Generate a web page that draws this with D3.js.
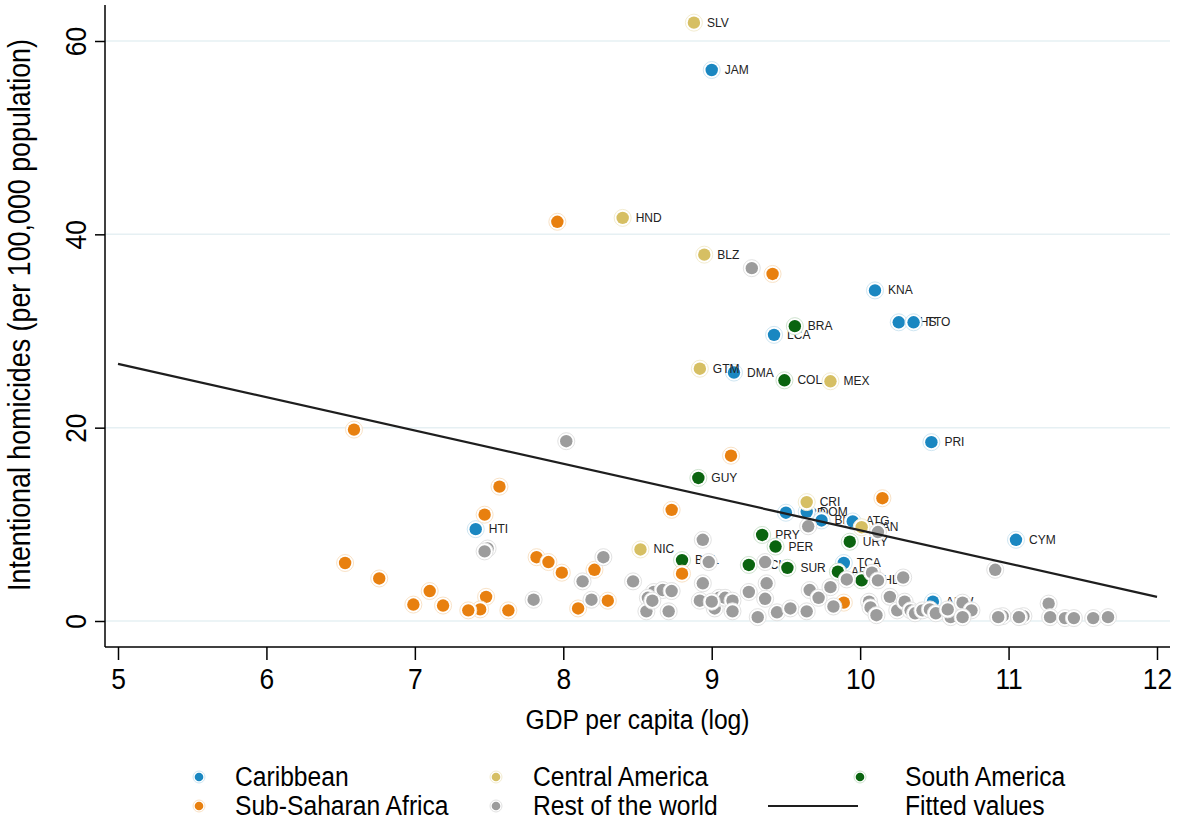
<!DOCTYPE html>
<html>
<head>
<meta charset="utf-8">
<script src="https://cdn.jsdelivr.net/npm/d3@7"></script>
<style>
  body { margin: 0; background: #fff; }
  svg text { font-family: "Liberation Sans", Arial, sans-serif; fill: #000; }
  .lbl { font-size: 12px; fill: #222; }
</style>
</head>
<body>
<div id="chart"></div>
<script>
// x = log GDP per capita, y = homicides per 100,000
var caribbean = [
  [9.00, 57.0, "JAM"], [10.10, 34.2, "KNA"], [10.26, 30.9, "BHS"], [10.36, 30.9, "TTO"],
  [9.42, 29.6, "LCA"], [9.15, 25.7, "DMA"], [10.48, 18.5, "PRI"], [9.50, 11.2, "GRD"],
  [9.64, 11.3, "DOM"], [9.74, 10.4, "BRB"], [9.95, 10.3, "ATG"], [7.41, 9.5, "HTI"],
  [11.05, 8.4, "CYM"], [9.89, 6.0, "TCA"], [10.49, 2.0, "ABW"]
];
var centralAmerica = [
  [8.88, 61.9, "SLV"], [8.40, 41.7, "HND"], [8.95, 37.9, "BLZ"], [8.92, 26.1, "GTM"],
  [9.80, 24.8, "MEX"], [9.64, 12.3, "CRI"], [10.01, 9.7, "PAN"], [8.52, 7.4, "NIC"]
];
var southAmerica = [
  [9.56, 30.5, "BRA"], [9.49, 24.9, "COL"], [8.91, 14.8, "GUY"], [9.34, 8.9, "PRY"],
  [9.93, 8.2, "URY"], [9.43, 7.7, "PER"], [8.80, 6.3, "BOL"], [9.25, 5.8, "ECU"],
  [9.51, 5.5, "SUR"], [9.85, 5.1, "ARG"], [10.01, 4.2, "CHL"]
];
var subSaharan = [
  [7.96, 41.3], [9.41, 35.9], [6.59, 19.8], [9.13, 17.1], [7.57, 13.9], [10.15, 12.7],
  [8.73, 11.5], [7.47, 11.0], [6.53, 6.0], [6.76, 4.4], [7.10, 3.1], [6.99, 1.7],
  [7.19, 1.6], [7.48, 2.5], [7.44, 1.2], [7.36, 1.1], [7.63, 1.1], [7.82, 6.6],
  [7.90, 6.1], [7.99, 5.0], [8.21, 5.3], [8.10, 1.3], [8.30, 2.1], [8.80, 4.9], [9.89, 1.9]
];
var restOfWorld = [
  [9.27, 36.5], [8.02, 18.6], [8.94, 8.4], [9.65, 9.8], [10.12, 9.2], [7.49, 7.5], [7.47, 7.2],
  [8.27, 6.6], [8.98, 6.1], [9.36, 6.1], [10.91, 5.3], [8.13, 4.1], [8.47, 4.1], [8.94, 3.9],
  [9.37, 3.9], [7.80, 2.2], [8.19, 2.2], [8.61, 3.0], [8.57, 2.4], [8.56, 1.0], [8.67, 3.2],
  [8.73, 3.1], [8.71, 1.0], [8.92, 2.1], [9.02, 1.3], [9.05, 2.4], [9.09, 2.4], [9.14, 2.1],
  [9.14, 1.0], [9.25, 3.0], [9.31, 0.4], [9.36, 2.3], [9.44, 0.9], [9.53, 1.3], [9.64, 1.0],
  [9.66, 3.2], [9.72, 2.4], [9.80, 3.5], [9.82, 1.5], [9.91, 4.3], [10.08, 5.0], [10.12, 4.2],
  [10.29, 4.5], [10.06, 2.0], [10.07, 1.4], [10.11, 0.6], [10.20, 2.5], [10.25, 1.1],
  [10.30, 2.0], [10.34, 1.1], [10.37, 0.8], [10.42, 1.1], [10.47, 1.2], [10.51, 0.8],
  [10.61, 0.4], [10.59, 1.2], [10.69, 1.9], [10.75, 1.1], [10.69, 0.4], [10.96, 0.5],
  [10.93, 0.4], [11.10, 0.5], [11.07, 0.4], [11.27, 1.8], [11.28, 0.4], [11.38, 0.3],
  [11.44, 0.3], [11.57, 0.3], [11.67, 0.4], [9.00, 2.0], [8.60, 2.1]
];
var fitX = [5, 12], fitY = [26.6, 2.5];
var xTicks = [5, 6, 7, 8, 9, 10, 11, 12];
var yTicks = [0, 20, 40, 60];

var groups = [
  { name: "Caribbean", pts: caribbean, color: "#1a87c1", halo: "#cfe6f2" },
  { name: "Central America", pts: centralAmerica, color: "#d6bf63", halo: "#f3ecd0" },
  { name: "South America", pts: southAmerica, color: "#0a640f", halo: "#cfe3cf" },
  { name: "Sub-Saharan Africa", pts: subSaharan, color: "#e8800f", halo: "#f9e2c6" },
  { name: "Rest of the world", pts: restOfWorld, color: "#9c9c9c", halo: "#e2e2e2" }
];

var W = 1181, H = 820,
    plotLeft = 105, plotRight = 1170, plotTop = 5, plotBottom = 647,
    narrow = 0.88;   // stata's text is rendered horizontally squeezed

var x = d3.scaleLinear().domain([5, 12]).range([118, 1157]);
var y = d3.scaleLinear().domain([0, 60]).range([621, 41]);

var svg = d3.select("#chart").append("svg")
    .attr("width", W).attr("height", H);

function label(px, py, str, size, rot) {
  return svg.append("text")
    .attr("transform", "translate(" + px + "," + py + ") rotate(" + (rot || 0) + ") scale(" + narrow + ",1)")
    .attr("font-size", size)
    .text(str);
}

// grid
svg.selectAll(".grid").data(yTicks).enter().append("line")
    .attr("x1", plotLeft).attr("x2", plotRight)
    .attr("y1", function(d) { return y(d); }).attr("y2", function(d) { return y(d); })
    .attr("stroke", "#e6f0f3").attr("stroke-width", 1.5);

// axes
var xAxis = svg.append("g").attr("transform", "translate(0," + plotBottom + ")")
    .call(d3.axisBottom(x).tickValues(xTicks).tickSize(13).tickPadding(8).tickFormat(d3.format("d")));
xAxis.select(".domain").remove();
xAxis.selectAll("line").attr("stroke", "#000").attr("stroke-width", 1.5);
xAxis.selectAll("text").attr("font-size", 30).attr("fill", "#000")
    .attr("transform", "scale(" + narrow + ",1)")
    .style("font-family", "'Liberation Sans',Arial,sans-serif");

var yAxis = svg.append("g").attr("transform", "translate(" + plotLeft + ",0)")
    .call(d3.axisLeft(y).tickValues(yTicks).tickSize(10).tickPadding(6).tickFormat(d3.format("d")));
yAxis.select(".domain").remove();
yAxis.selectAll("line").attr("stroke", "#000").attr("stroke-width", 1.5);
yAxis.selectAll("text").attr("font-size", 30).attr("fill", "#000")
    .attr("x", 0).attr("dy", 0)
    .attr("transform", "translate(-19,0) rotate(-90) scale(" + narrow + ",1)")
    .style("text-anchor", "middle")
    .style("font-family", "'Liberation Sans',Arial,sans-serif");

svg.append("line").attr("x1", plotLeft).attr("x2", plotRight).attr("y1", plotBottom).attr("y2", plotBottom)
    .attr("stroke", "#000").attr("stroke-width", 1.5);
svg.append("line").attr("x1", plotLeft).attr("x2", plotLeft).attr("y1", plotTop).attr("y2", plotBottom)
    .attr("stroke", "#000").attr("stroke-width", 1.5);

label((x(5) + x(12)) / 2, 729, "GDP per capita (log)", 28).attr("text-anchor", "middle");
label(30, 315, "Intentional homicides (per 100,000 population)", 30.5, -90).attr("text-anchor", "middle");

// points, in plot order
groups.forEach(function(g) {
  var gg = svg.append("g");
  var dots = gg.selectAll("g").data(g.pts).enter().append("g")
      .attr("transform", function(d) { return "translate(" + x(d[0]) + "," + y(d[1]) + ")"; });
  dots.append("circle").attr("r", 8.5).attr("fill", "#fff").attr("stroke", g.halo).attr("stroke-width", 1);
  dots.append("circle").attr("r", 6.2).attr("fill", g.color);
  dots.filter(function(d) { return d[2]; }).append("text")
      .attr("class", "lbl").attr("x", 13).attr("y", 4).text(function(d) { return d[2]; });
});

// fitted line
svg.append("path")
    .datum(fitX.map(function(v, i) { return [v, fitY[i]]; }))
    .attr("d", d3.line().x(function(d) { return x(d[0]); }).y(function(d) { return y(d[1]); }))
    .attr("stroke", "#1e1e1e").attr("stroke-width", 2.2).attr("fill", "none");

// legend
var legendPos = [[199, 777], [496, 777], [860, 777], [199, 806], [496, 806]];
var legendTextX = [235, 533, 905, 235, 533];
groups.forEach(function(g, i) {
  var p = legendPos[i];
  svg.append("circle").attr("cx", p[0]).attr("cy", p[1]).attr("r", 6).attr("fill", "#fff").attr("stroke", g.halo);
  svg.append("circle").attr("cx", p[0]).attr("cy", p[1]).attr("r", 4.3).attr("fill", g.color);
  label(legendTextX[i], p[1] + 9, g.name, 28);
});
svg.append("line").attr("x1", 768).attr("x2", 858).attr("y1", 806).attr("y2", 806)
    .attr("stroke", "#1e1e1e").attr("stroke-width", 2.2);
label(905, 815, "Fitted values", 28);
</script>
</body>
</html>
